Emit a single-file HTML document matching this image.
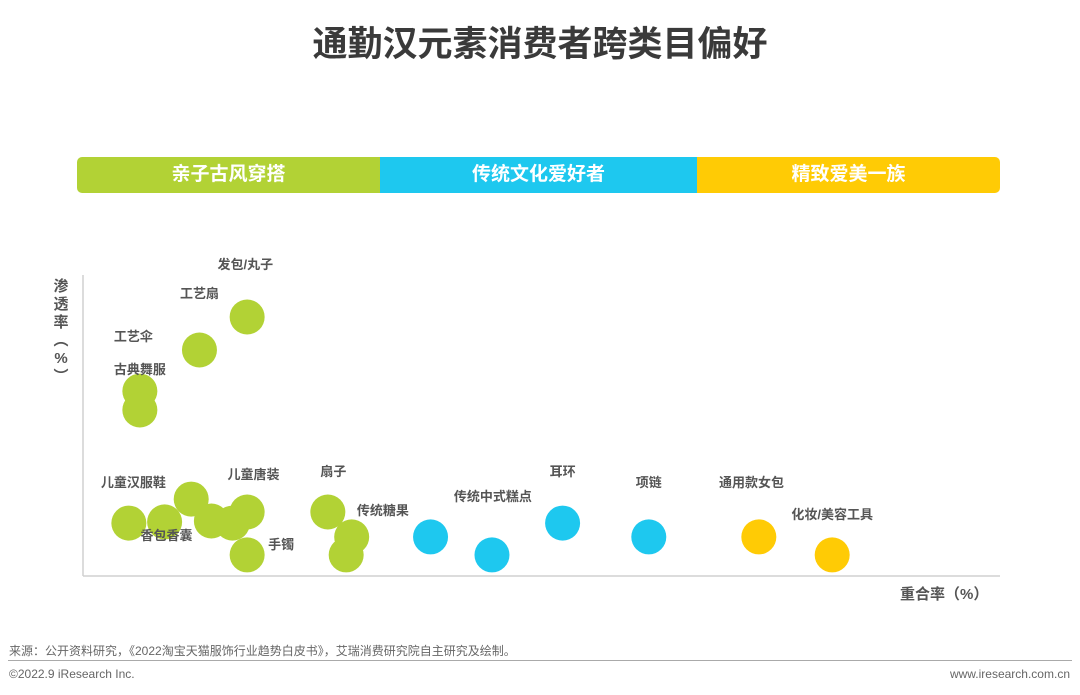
<!DOCTYPE html>
<html><head><meta charset="utf-8"><style>
body{margin:0;width:1080px;height:695px;background:#fff;font-family:"Liberation Sans","Noto Sans CJK SC",sans-serif;position:relative;overflow:hidden}
.t{position:absolute;white-space:nowrap}
</style></head><body>
<div class="t" style="left:0;width:1080px;top:16px;text-align:center;font-size:35px;font-weight:bold;color:#3a3a3a">通勤汉元素消费者跨类目偏好</div>
<div style="position:absolute;left:77px;top:157px;width:923px;height:36px;border-radius:5px;overflow:hidden;display:flex;color:#fff;font-weight:bold;font-size:19px;line-height:36px;text-align:center">
<div style="width:303px;background:#b2d235">亲子古风穿搭</div>
<div style="width:317px;background:#1ec8ef">传统文化爱好者</div>
<div style="width:303px;background:#ffcb05">精致爱美一族</div>
</div>
<svg id="chart" width="1080" height="695" style="position:absolute;left:0;top:0">
<line x1="83" y1="275" x2="83" y2="576" stroke="#d0d0d0" stroke-width="1.5"/>
<line x1="83" y1="576" x2="1000" y2="576" stroke="#d0d0d0" stroke-width="1.5"/>
<g id="marks"></g><g id="labels"></g>
</svg>
<div class="t" style="left:51px;top:278px;width:20px;font-size:15px;font-weight:bold;color:#555;white-space:normal;line-height:18px;text-align:center">渗<br>透<br>率<br>︵<br>%<br>︶</div>
<div class="t" style="left:900px;top:583px;font-size:15px;font-weight:bold;color:#555">重合率（%）</div>
<div class="t" style="left:9px;top:642px;font-size:12px;color:#666">来源：公开资料研究，《2022淘宝天猫服饰行业趋势白皮书》，艾瑞消费研究院自主研究及绘制。</div>
<div style="position:absolute;left:8px;top:660px;width:1064px;height:1px;background:#aaa"></div>
<div class="t" style="left:9px;top:667px;font-size:12px;color:#666">©2022.9 iResearch Inc.</div>
<div class="t" style="right:10px;top:667px;font-size:12px;color:#666">www.iresearch.com.cn</div>
<script>
const overlapVals=[17.9,12.7,6.2,6.2,11.8,5.0,8.9,14.0,16.3,17.9,17.9,26.7,29.3,28.7,37.9,44.6,52.3,61.7,73.7,81.7];
const penetrationVals=[86,75,61.3,55,25.3,17.3,17.7,18,17.3,21,6.7,21,12.7,6.7,12.7,6.7,17.3,12.7,12.7,6.7];
const groups=[0,0,0,0,0,0,0,0,0,0,0,0,0,0,1,1,1,1,2,2];
const colors=["#b2d235","#1ec8ef","#ffcb05"];
const labelText=["发包/丸子","工艺扇","工艺伞","古典舞服","儿童汉服鞋","香包香囊","儿童唐装","手镯","扇子","传统糖果","传统中式糕点","耳环","项链","通用款女包","化妆/美容工具"];
const labelX=[17.7,12.7,5.5,6.2,5.5,9.1,18.6,21.6,27.3,32.7,44.7,52.3,61.7,72.9,81.7];
const labelY=[103.7,94,79.7,68.7,31,13.3,33.7,10.3,34.7,21.7,26.3,34.7,31,31,20.3];
const x=v=>83+v*9.17, y=v=>575-v*3;
const ns="http://www.w3.org/2000/svg";
const m=document.getElementById('marks'), lg=document.getElementById('labels');
overlapVals.forEach((v,i)=>{const c=document.createElementNS(ns,'circle');
c.setAttribute('cx',x(v));c.setAttribute('cy',y(penetrationVals[i]));c.setAttribute('r',17.5);c.setAttribute('fill',colors[groups[i]]);


m.appendChild(c);});
labelText.forEach((s,i)=>{const t=document.createElementNS(ns,'text');
t.setAttribute('x',x(labelX[i]));t.setAttribute('y',y(labelY[i])+5);t.setAttribute('text-anchor','middle');
t.setAttribute('font-size','13');t.setAttribute('font-weight','bold');t.setAttribute('fill','#555');
t.setAttribute('font-family','"Liberation Sans","Noto Sans CJK SC",sans-serif');t.textContent=s;


lg.appendChild(t);});
</script>
</body></html>
